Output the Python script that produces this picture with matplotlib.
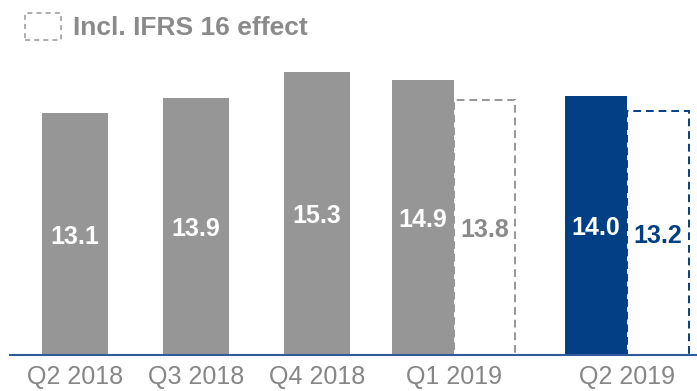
import matplotlib.pyplot as plt
from matplotlib.patches import Rectangle

quarters = ["Q2 2018", "Q3 2018", "Q4 2018", "Q1 2019", "Q2 2019"]
reported = [13.1, 13.9, 15.3, 14.9, 14.0]
# values including the IFRS 16 effect (only from 2019 on)
ifrs16 = [None, None, None, 13.8, 13.2]

GREY = "#969696"
GREY_TXT = "#8a8a8a"
BLUE = "#033F85"
AXIS_BLUE = "#2F5B9E"

plt.rcParams["font.family"] = ["Liberation Sans", "DejaVu Sans"]

fig = plt.figure(figsize=(6.97, 3.91), dpi=100)
ax = fig.add_axes([10 / 697, 36 / 391, 687 / 697, 355 / 391])

xpos = [0, 1, 2, 3.13, 4.56]
w_single = 0.545
w_pair = 0.51

for i, (q, v, v2) in enumerate(zip(quarters, reported, ifrs16)):
    col = BLUE if i == len(quarters) - 1 else GREY
    if v2 is None:
        ax.bar(xpos[i], v, width=w_single, color=col, zorder=2)
        ax.text(xpos[i], v / 2, f"{v:.1f}", ha="center", va="center_baseline",
                color="white", fontsize=18, fontweight="bold")
    else:
        xs = xpos[i] - w_pair / 2
        xd = xpos[i] + w_pair / 2
        ax.bar(xs, v, width=w_pair, color=col, zorder=2)
        ax.bar(xd, v2, width=w_pair, facecolor="none", edgecolor=col,
               linestyle=(0, (4, 2.5)), linewidth=1.4, zorder=1)
        ax.text(xs, v / 2, f"{v:.1f}", ha="center", va="center_baseline",
                color="white", fontsize=18, fontweight="bold")
        ax.text(xd, v2 / 2, f"{v2:.1f}", ha="center", va="center_baseline",
                color=GREY_TXT if col == GREY else BLUE,
                fontsize=18, fontweight="bold")

ax.set_xlim(-0.537, 5.14)
ax.set_ylim(0, 19.22)
ax.set_xticks(xpos)
ax.set_xticklabels(quarters, fontsize=18, color="#868686")
ax.tick_params(axis="x", length=0, pad=7)
ax.set_yticks([])
for s in ["top", "left", "right"]:
    ax.spines[s].set_visible(False)
ax.spines["bottom"].set_color(AXIS_BLUE)
ax.spines["bottom"].set_linewidth(1.5)
ax.spines["bottom"].set_zorder(3)

# legend: dashed box + label
fig.patches.append(Rectangle((25 / 697, 1 - 40 / 391), 36 / 697, 27 / 391,
                             transform=fig.transFigure, facecolor="none",
                             edgecolor="#a0a0a0", linestyle=(0, (3, 2.5)),
                             linewidth=1.2))
fig.text(73 / 697, 1 - 28 / 391, "Incl. IFRS 16 effect", ha="left",
         va="center", fontsize=19, fontweight="bold", color=GREY_TXT)

fig.savefig("out.png", dpi=100)
